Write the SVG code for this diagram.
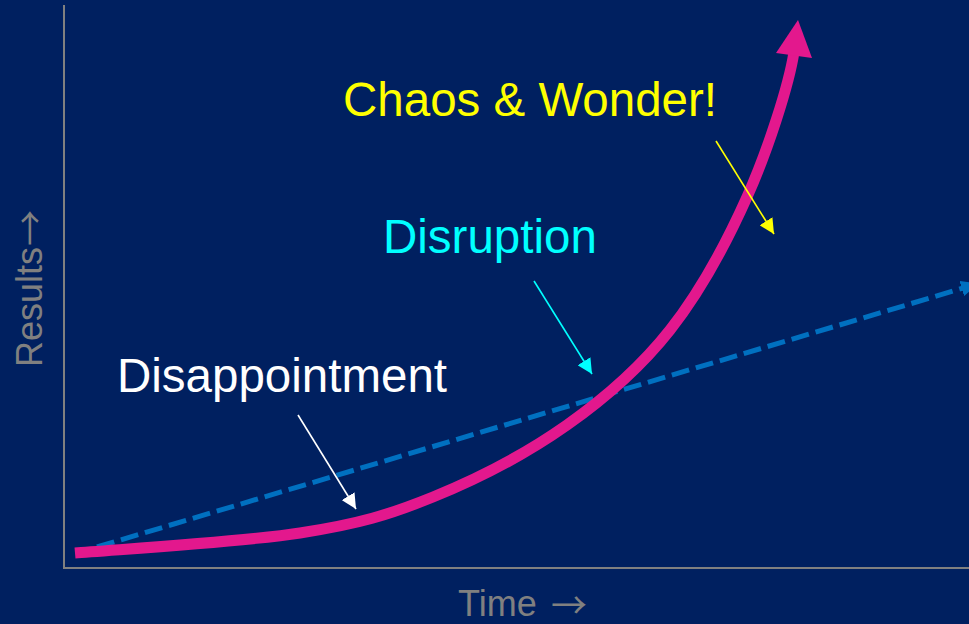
<svg xmlns="http://www.w3.org/2000/svg" width="969" height="624" viewBox="0 0 969 624">
  <style>
    .lbl { font-family: "Liberation Sans", Arial, sans-serif; font-size: 47.5px; }
    .axlbl { font-family: "Liberation Sans", Arial, sans-serif; font-size: 36px; fill: #808080; }
    .arr { font-family: "Noto Sans CJK SC", "DejaVu Sans", sans-serif; }
    .axis { stroke: #808080; stroke-width: 2; fill: none; }
    .thin { stroke-width: 1.6; fill: none; }
  </style>
  <defs>
    <marker id="ahY" viewBox="0 0 15 15" refX="15" refY="7.5" markerWidth="15" markerHeight="15" markerUnits="userSpaceOnUse" orient="auto">
      <path d="M0,0 L15,7.5 L0,15 z" fill="#FFFF00"/>
    </marker>
    <marker id="ahC" viewBox="0 0 15 15" refX="15" refY="7.5" markerWidth="15" markerHeight="15" markerUnits="userSpaceOnUse" orient="auto">
      <path d="M0,0 L15,7.5 L0,15 z" fill="#00FFFF"/>
    </marker>
    <marker id="ahW" viewBox="0 0 15 15" refX="15" refY="7.5" markerWidth="15" markerHeight="15" markerUnits="userSpaceOnUse" orient="auto">
      <path d="M0,0 L15,7.5 L0,15 z" fill="#FFFFFF"/>
    </marker>
    <marker id="ahB" viewBox="0 0 17 16" refX="17" refY="8" markerWidth="17" markerHeight="16" markerUnits="userSpaceOnUse" orient="auto">
      <path d="M0,0 L17,8 L0,16 z" fill="#0070C0"/>
    </marker>
  </defs>

  <rect x="0" y="0" width="969" height="624" fill="#002060"/>

  <g id="axes">
    <line class="axis" x1="64" y1="5" x2="64" y2="569"/>
    <line class="axis" x1="63" y1="568" x2="969" y2="568"/>
    <text class="axlbl" x="458" y="616">Time <tspan class="arr" x="551" dy="3">→</tspan></text>
    <text class="axlbl" transform="translate(42,367) rotate(-90)" x="0" y="0">Results<tspan class="arr" x="121" dy="2">→</tspan></text>
  </g>

  <g id="connectors">
    <line x1="97" y1="547" x2="978" y2="283.6" stroke="#0070C0" stroke-width="5" stroke-dasharray="18 7" marker-end="url(#ahB)"/>
    <path d="M75,553 C112.5,549.7 240.3,542.3 300,533 C359.7,523.7 388.5,515 433,497 C477.5,479 527.5,452.8 567,425 C606.5,397.2 640,368 670,330 C700,292 726.3,243.3 747,197 C767.7,150.7 789,85 794,52" fill="none" stroke="#E3188D" stroke-width="11"/>
    <polygon points="798,20 812,58 776,53" fill="#E3188D"/>
    <line class="thin" x1="716" y1="141" x2="774" y2="234" stroke="#FFFF00" marker-end="url(#ahY)"/>
    <line class="thin" x1="534" y1="281" x2="592" y2="374" stroke="#00FFFF" marker-end="url(#ahC)"/>
    <line class="thin" x1="298" y1="415" x2="356" y2="509" stroke="#FFFFFF" marker-end="url(#ahW)"/>
  </g>

  <g id="chaos">
    <text class="lbl" x="343" y="116" fill="#FFFF00">Chaos &amp; Wonder!</text>
  </g>
  <g id="disruption">
    <text class="lbl" x="383" y="253" fill="#00FFFF">Disruption</text>
  </g>
  <g id="disappointment">
    <text class="lbl" x="117" y="392" fill="#FFFFFF">Disappointment</text>
  </g>
</svg>
